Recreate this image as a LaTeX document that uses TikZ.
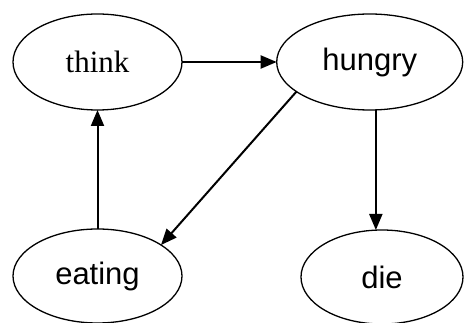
\documentclass[tikz,border=0pt]{standalone}
\usepackage{fontspec}
\setmainfont{Liberation Serif}
\setsansfont{Liberation Sans}
\usetikzlibrary{shapes.geometric,arrows.meta,calc}

\tikzset{
  state/.style={ellipse, draw, line width=1.3pt, inner sep=0pt, outer sep=0pt,
    font=\sffamily\fontsize{31}{36}\selectfont},
  serifstate/.style={state, font=\rmfamily\fontsize{31}{36}\selectfont},
  arr/.style={line width=2pt, -{Triangle[length=16pt,width=13pt]}}
}

\begin{document}
\begin{tikzpicture}[x=1pt,y=-1pt]
  \useasboundingbox (0,0) rectangle (464,323);

  \node[serifstate, minimum width=169pt, minimum height=96pt] (think)  at (97.5,62)  {think};
  \node[state, minimum width=186pt, minimum height=96pt]      (hungry) at (369.7,62) {hungry};
  \node[state, minimum width=169pt, minimum height=94pt]      (eating) at (97.5,276) {eating};
  \node[state, minimum width=162pt, minimum height=94pt]      (die)    at (382,277)  {die};

  \coordinate (mid) at ($(hungry.south)!0.5!(die.north)$);

  \draw[arr] (think.east) -- (hungry.west);
  \draw[arr] (hungry.202) -- (eating.26);
  \draw[arr] (eating.north) -- (think.south);
  \draw[arr] (mid |- hungry.south) -- (mid |- die.north);
\end{tikzpicture}
\end{document}
